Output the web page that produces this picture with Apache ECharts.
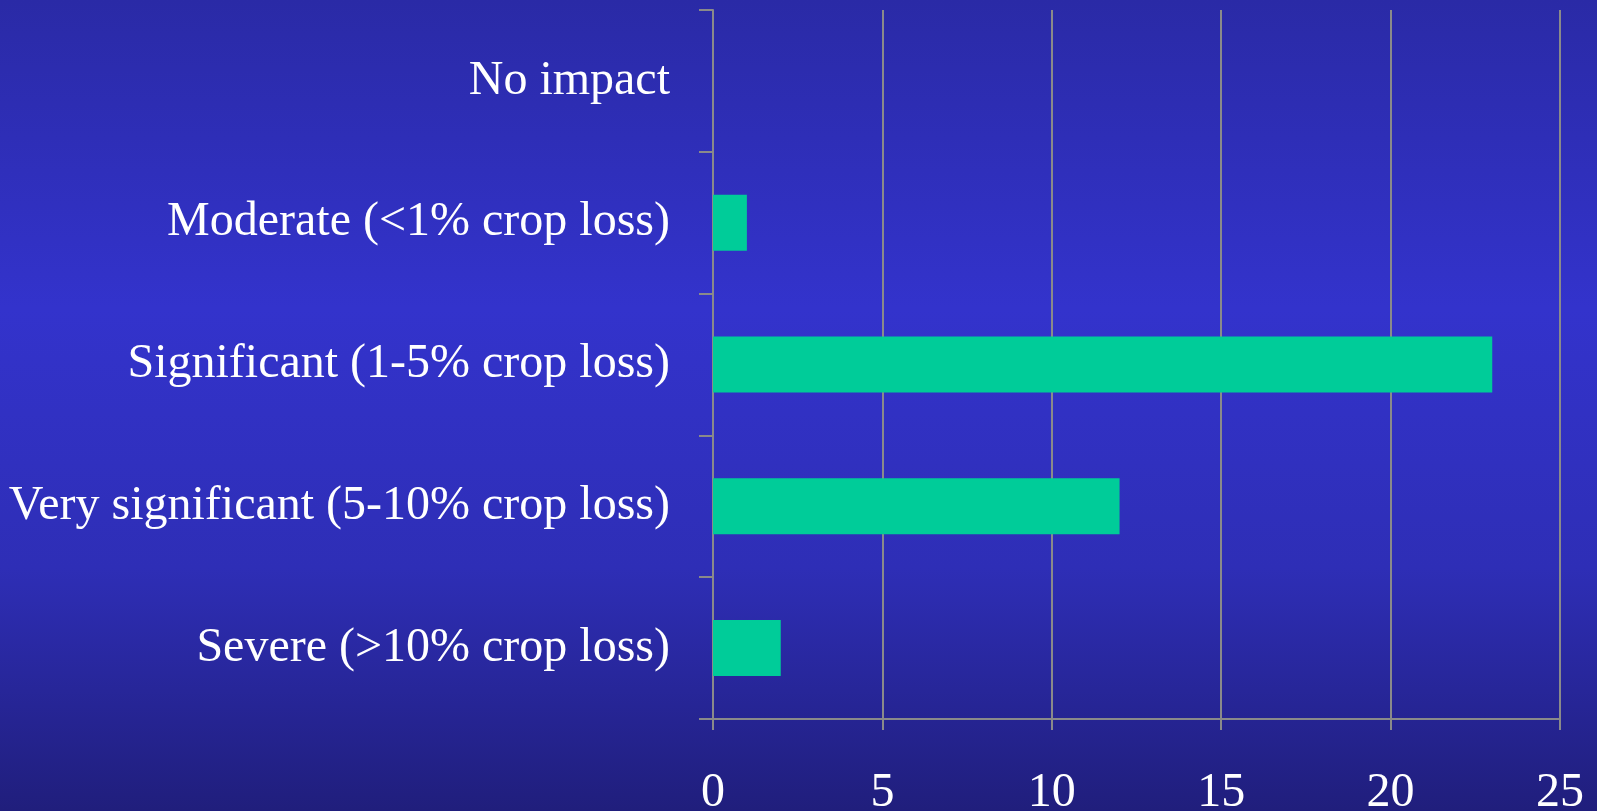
<!DOCTYPE html>
<html>
<head>
<meta charset="utf-8">
<script src="https://cdn.jsdelivr.net/npm/echarts@6/dist/echarts.min.js"></script>
<style>
html,body{margin:0;padding:0;width:1597px;height:811px;overflow:hidden;}
#chart{width:1597px;height:811px;}
</style>
</head>
<body>
<div id="chart"></div>
<script>
const categories = [
  "No impact",
  "Moderate (<1% crop loss)",
  "Significant (1-5% crop loss)",
  "Very significant (5-10% crop loss)",
  "Severe (>10% crop loss)"
];
const values = [0, 1, 23, 12, 2];
const xTicks = [0, 5, 10, 15, 20, 25];

const chart = echarts.init(document.getElementById('chart'));
const gray = '#8a8a8a';
chart.setOption({
  animation: false,
  backgroundColor: {
    type: 'linear', x: 0, y: 0, x2: 0, y2: 1,
    colorStops: [
      {offset: 0, color: '#2a2aa6'},
      {offset: 0.38, color: '#3333cc'},
      {offset: 0.7, color: '#2e2eb6'},
      {offset: 1, color: '#201e7c'}
    ]
  },
  grid: {left: 713, right: 37, top: 10, bottom: 92, containLabel: false, outerBoundsMode: 'none'},
  xAxis: {
    type: 'value',
    min: xTicks[0], max: xTicks[xTicks.length - 1], interval: 5,
    axisLine: {show: true, lineStyle: {color: gray, width: 2}},
    axisTick: {show: true, length: 11, lineStyle: {color: gray, width: 2}},
    splitLine: {show: true, lineStyle: {color: gray, width: 2}},
    axisLabel: {color: '#ffffff', fontFamily: 'Liberation Serif', fontSize: 48, margin: 50}
  },
  yAxis: {
    type: 'category',
    data: categories,
    inverse: true,
    axisLine: {show: true, lineStyle: {color: gray, width: 2}},
    axisTick: {show: true, length: 14, lineStyle: {color: gray, width: 2}},
    axisLabel: {color: '#ffffff', fontFamily: 'Liberation Serif', fontSize: 48, margin: 43, padding: [18, 0, 0, 0]}
  },
  series: [{
    type: 'bar',
    data: values,
    barWidth: 56,
    itemStyle: {color: '#00cc99'}
  }]
});
</script>
</body>
</html>
